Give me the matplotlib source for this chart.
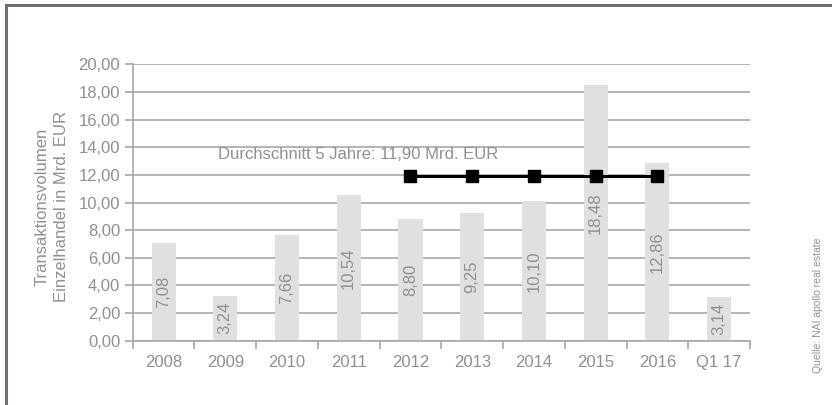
import matplotlib
matplotlib.use("Agg")
import matplotlib.pyplot as plt
from matplotlib.lines import Line2D

categories = ["2008", "2009", "2010", "2011", "2012", "2013", "2014", "2015", "2016", "Q1 17"]
values = [7.08, 3.24, 7.66, 10.54, 8.80, 9.25, 10.10, 18.48, 12.86, 3.14]
avg_categories = ["2012", "2013", "2014", "2015", "2016"]
avg_value = 11.90
yticks = [0, 2, 4, 6, 8, 10, 12, 14, 16, 18, 20]

plt.rcParams['font.family'] = ['Liberation Sans', 'DejaVu Sans']
txt = '#909090'
grid = '#a8a8a8'

fig = plt.figure(figsize=(8.32, 4.05), dpi=100)
ax = fig.add_axes([0.1595, 0.1588, 0.9014 - 0.1595, 0.8412 - 0.1588])

x = list(range(len(categories)))
ax.bar(x, values, width=0.39, color='#e0e0e0', zorder=2)
for xi, v in zip(x, values):
    ax.text(xi, v / 2, f"{v:.2f}".replace('.', ','), rotation=90, ha='center', va='center',
            fontsize=12, color=txt, zorder=4)

ax_x = [categories.index(c) for c in avg_categories]
ax.plot(ax_x, [avg_value] * len(ax_x), color='black', lw=2.2, marker='s', markersize=9, zorder=5)
ax.text(0.875, 13.45, "Durchschnitt 5 Jahre: 11,90 Mrd. EUR", fontsize=12, color=txt,
        ha='left', va='center', zorder=5)

ax.set_xlim(-0.5, len(categories) - 0.5)
ax.set_ylim(0, 20)
ax.set_yticks(yticks)
ax.set_yticklabels([f"{t:.2f}".replace('.', ',') for t in yticks], fontsize=12, color=txt)
ax.yaxis.grid(True, color=grid, lw=1.2, zorder=1)
ax.set_axisbelow(True)
ax.tick_params(axis='y', length=6, color=grid, width=1.2, pad=3)
ax.set_xticks(x)
ax.set_xticklabels(categories, fontsize=12, color=txt)
ax.tick_params(axis='x', length=0, pad=10)
ax.set_xticks([i - 0.5 for i in range(len(categories) + 1)], minor=True)
ax.tick_params(axis='x', which='minor', length=6, color=grid, width=1.2)
for s in ['top', 'right']:
    ax.spines[s].set_visible(False)
for s in ['left', 'bottom']:
    ax.spines[s].set_color(grid)
    ax.spines[s].set_linewidth(1.2)

fig.text(0.062, 0.49, "Transaktionsvolumen\nEinzelhandel in Mrd. EUR", rotation=90, ha='center',
         va='center', fontsize=12, color=txt, linespacing=1.35)
fig.text(0.983, 0.247, "Quelle: NAI apollo real estate", rotation=90, ha='center', va='center',
         fontsize=7.5, color=txt)

fig.add_artist(Line2D([0.0072, 0.0072], [0, 0.988], transform=fig.transFigure, color='#707070', lw=2.2))
fig.add_artist(Line2D([0.0072, 1.0], [0.988, 0.988], transform=fig.transFigure, color='#707070', lw=2.2))

fig.savefig("out.png", dpi=100)
